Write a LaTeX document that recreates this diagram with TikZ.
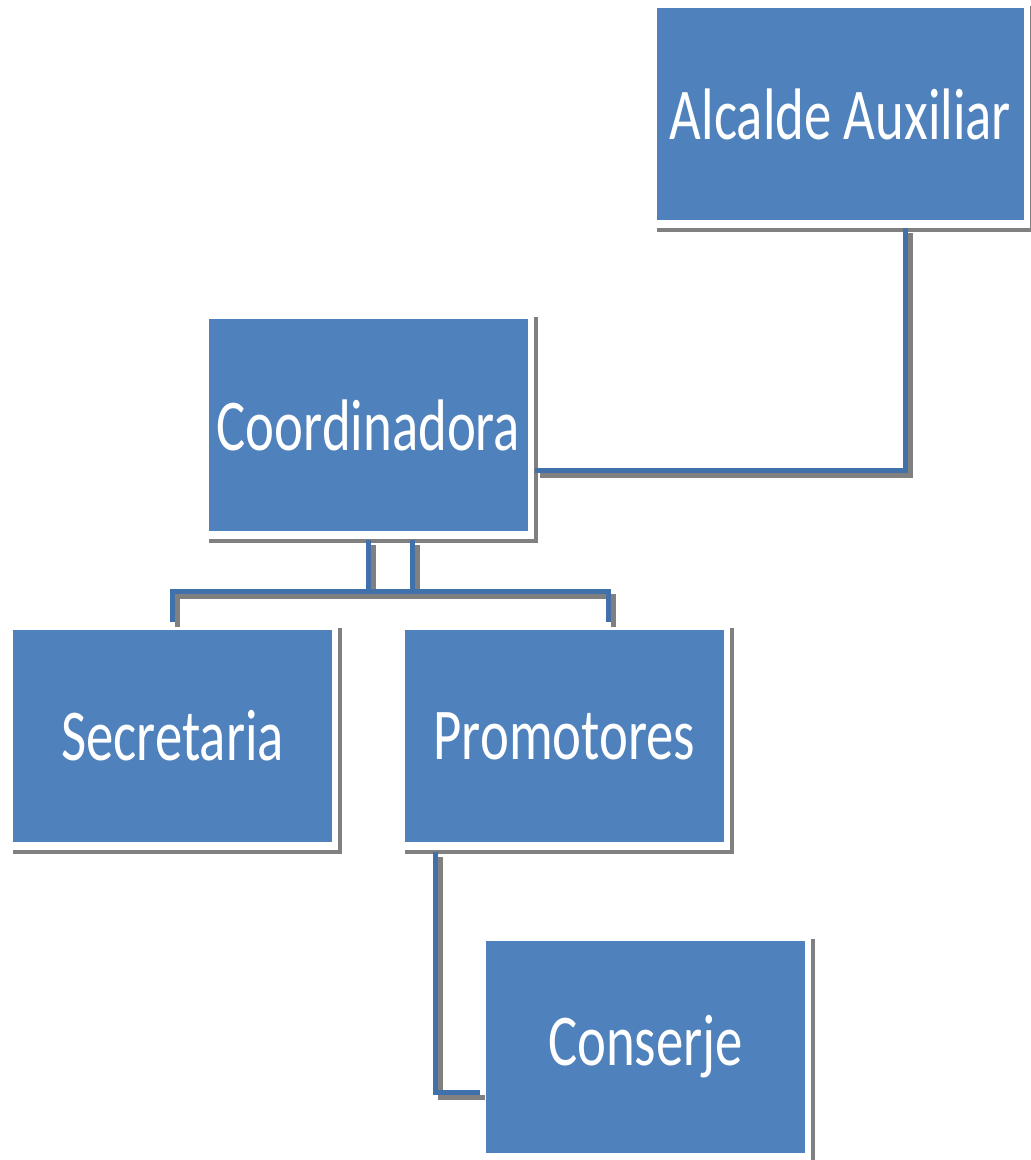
\documentclass[tikz,border=0pt]{standalone}
\usepackage{fontspec}
\setmainfont{Carlito}[FakeStretch=0.75]
\usetikzlibrary{positioning, calc}
\definecolor{boxblue}{HTML}{4F81BD}
\definecolor{linkblue}{HTML}{4171AB}
\definecolor{shadegray}{HTML}{808080}
\newcommand{\orgLink}[1]
{
	\draw[linkshade] #1;
	\draw[link] #1
}

\begin{document}
\begin{tikzpicture}[x=0.5pt, y=-0.5pt,
			unit/.style={shape=rectangle,
				fill=boxblue,
				text=white,
				inner sep=0, outer sep=0,
				minimum width=159.5pt,
				minimum height=106pt,
				font=\fontsize{36.5}{40}\selectfont},
			boxshade/.style={draw=shadegray, line width=2pt},
			link/.style={draw=linkblue, line width=2.5pt},
			linkshade/.style={draw=shadegray, line width=2.5pt,
				transform canvas={xshift=2.5pt, yshift=-2.5pt}}]
			\useasboundingbox (0, 0) rectangle (1030, 1160);
			
			\node[unit, minimum width=183.5pt] at (840.5, 114) (Alc){Alcalde Auxiliar};
			\node[unit] at (368.5, 425) (Coord){Coordinadora};
			\node[unit] at (172.5, 736) (Sec){Secretaria};
			\node[unit] at (564.5, 736) (Prom){Promotores};
			\node[unit] at (645.5, 1047) (Cons){Conserje};
			
			\foreach \n in {Alc, Coord, Sec, Prom, Cons}
				\draw[boxshade] ([xshift=4pt, yshift=1pt]\n.north east) |- ([yshift=-5pt]\n.south west);
			
			\orgLink{($(Alc.south)+(64.5,8)$) |- ($(Coord.east)+(7,45)$)};
			\orgLink{($(Coord.south)+(44,9)$) |- ($(Sec.north)+(0,-39)$) -- ($(Sec.north)+(0,-8)$)};
			\orgLink{($(Coord.south)+(0,9)$) |- ($(Prom.north)+(44,-39)$) -- ($(Prom.north)+(44,-8)$)};
			\orgLink{($(Prom.south west)+(30,10)$) |- ($(Cons.west)+(-6,45)$)};
		\end{tikzpicture}
\end{document}
